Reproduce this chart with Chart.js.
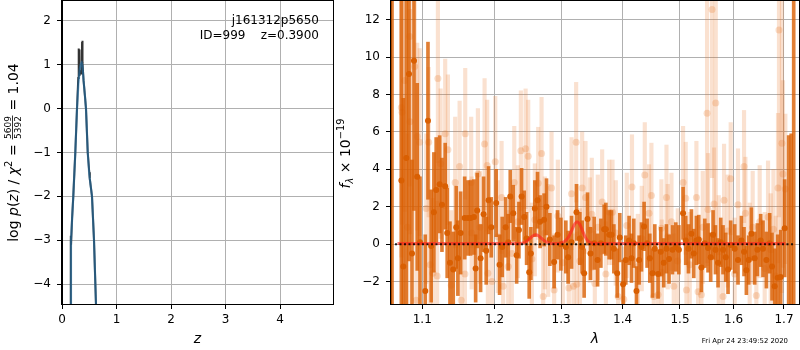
<!DOCTYPE html>
<html><head><meta charset="utf-8">
<script src="https://cdn.jsdelivr.net/npm/chart.js@4.4.0/dist/chart.umd.min.js"></script>
<style>
html,body{margin:0;padding:0;background:#fff;width:800px;height:350px;overflow:hidden;}
#cl{position:absolute;left:0;top:0;}
#cr{position:absolute;left:335px;top:0;}
</style></head><body>
<canvas id="cl" width="340" height="350" style="width:340px;height:350px"></canvas>
<canvas id="cr" width="465" height="350" style="width:465px;height:350px"></canvas>
<script>
// ---------- Left panel: log p(z) ----------
const zTicks = [0, 1, 2, 3, 4];
const logpTicks = [-4, -3, -2, -1, 0, 1, 2];
const zBlack = [0.147, 0.160, 0.163, 0.166, 0.185, 0.207, 0.244, 0.275, 0.298, 0.305, 0.308, 0.314, 0.320, 0.332, 0.350, 0.362, 0.368, 0.372, 0.376, 0.380, 0.395, 0.420, 0.440, 0.472, 0.500, 0.510, 0.525, 0.550, 0.587, 0.624];
const logpBlack = [-4.5, -3.3, -2.9, -3.1, -2.5, -2.0, -1.0, 0.0, 0.7, 1.37, 0.75, 1.35, 0.75, 0.85, 0.8, 1.0, 1.52, 0.9, 1.55, 1.05, 0.65, 0.3, 0.0, -1.0, -1.45, -1.6, -1.75, -2.0, -3.0, -4.5];
const zBlue = [0.148, 0.165, 0.207, 0.244, 0.275, 0.300, 0.325, 0.345, 0.360, 0.375, 0.395, 0.420, 0.440, 0.472, 0.500, 0.525, 0.550, 0.587, 0.624];
const logpBlue = [-4.5, -3.0, -2.0, -1.0, 0.0, 0.55, 0.9, 1.02, 1.05, 0.98, 0.65, 0.3, 0.0, -1.0, -1.5, -1.75, -2.0, -3.0, -4.5];
const objName = 'j161312p5650';
const objInfo = 'ID=999    z=0.3900';

// ---------- Right panel: spectrum ----------
const lamTicks = [1.1, 1.2, 1.3, 1.4, 1.5, 1.6, 1.7];
const fluxTicks = [-2, 0, 2, 4, 6, 8, 10, 12];
const darkLam = [1.0607,1.0727,1.0752,1.0791,1.0826,1.0865,1.0891,1.0934,1.0970,1.1040,1.1076,1.1119,1.1155,1.1186,1.1233,1.1264,1.1308,1.1335,1.1373,1.1418,1.1459,1.1482,1.1520,1.1576,1.1622,1.1659,1.1706,1.1730,1.1752,1.1800,1.1843,1.1880,1.1914,1.1952,1.2024,1.2073,1.2111,1.2161,1.2199,1.2229,1.2273,1.2323,1.2357,1.2397,1.2436,1.2472,1.2511,1.2536,1.2596,1.2637,1.2676,1.2737,1.2774,1.2826,1.2892,1.2945,1.2997,1.3075,1.3111,1.3165,1.3244,1.3297,1.3334,1.3366,1.3421,1.3469,1.3528,1.3584,1.3638,1.3692,1.3720,1.3775,1.3814,1.3853,1.3908,1.3952,1.4008,1.4053,1.4109,1.4150,1.4189,1.4235,1.4280,1.4321,1.4366,1.4418,1.4465,1.4512,1.4552,1.4610,1.4657,1.4710,1.4758,1.4804,1.4865,1.4924,1.4980,1.5056,1.5104,1.5154,1.5208,1.5251,1.5300,1.5343,1.5392,1.5454,1.5515,1.5565,1.5609,1.5654,1.5703,1.5754,1.5798,1.5849,1.5893,1.5944,1.6021,1.6085,1.6151,1.6202,1.6248,1.6293,1.6346,1.6411,1.6464,1.6530,1.6576,1.6644,1.6710,1.6757,1.6811,1.6872,1.6933,1.7014,1.7096,1.7148,1.7200];
const darkFlux = [15,3.4,-1.2,4.6,9.1,-0.5,9.8,3.6,0.1,-2.5,6.6,-0.1,1.7,2.9,3.2,2.1,3.1,0.6,-1.0,-1.35,0.9,-0.75,0.6,1.4,1.4,1.4,1.45,-1.3,1.8,-0.75,1.6,-0.35,2.35,0.9,2.2,-1.1,-0.15,0.9,0.1,2.55,1.65,-0.6,0.75,2.55,1.45,0.3,-1.5,-0.5,1.9,2.35,1.2,1.3,2.0,0.25,-0.95,0.5,0.0,-0.15,-0.7,0.1,1.7,0.3,-0.15,-1.55,1.35,-0.5,0.05,-0.85,0.05,0.8,0.8,0.5,0.5,-0.25,-1.55,0.35,-2.15,-0.85,0.2,-0.75,0.05,-2.5,-0.85,-0.15,0.95,0.05,-0.75,-1.55,-0.25,-1.6,-0.4,-1.0,-0.25,-0.8,-0.3,-0.15,-0.3,1.65,0.2,-0.25,0.55,-0.5,0.2,0.25,-1.25,0.05,-0.2,-0.7,0.5,-0.3,-1.0,0.1,-0.3,-0.7,-1.35,-0.05,-0.25,-0.85,0.2,-0.4,-1.4,-0.85,0.55,-0.75,-0.3,0.2,-0.25,-0.85,0.05,-1.2,-2.25,-1.8,-1.75,0.85,-4,-4,15];
const darkErr = [20,16,9,9.5,10,5,8,5,3.5,3,4.2,3,3.2,2.8,2.6,2.5,2.3,2.4,2.2,2.0,2.2,2.0,2.2,2.2,2.0,2.0,2.0,1.8,2.0,1.8,2.0,1.8,1.8,1.6,1.8,1.6,1.6,1.6,1.5,1.4,1.5,1.5,1.5,1.5,1.4,1.4,1.4,1.4,1.5,1.5,1.4,1.4,1.5,1.4,1.4,1.3,1.4,1.4,1.4,1.4,1.5,1.4,1.4,1.3,1.4,1.4,1.4,1.4,1.3,1.3,1.4,1.3,1.3,1.3,1.3,1.3,1.3,1.3,1.3,1.3,1.3,1.3,1.3,1.3,1.3,1.3,1.3,1.3,1.3,1.3,1.3,1.3,1.3,1.3,1.3,1.3,1.3,1.4,1.3,1.3,1.3,1.3,1.3,1.3,1.3,1.3,1.3,1.3,1.3,1.3,1.3,1.3,1.3,1.3,1.3,1.3,1.3,1.3,1.3,1.3,1.3,1.3,1.4,1.4,1.4,1.4,1.5,1.5,1.6,1.8,2.0,2.3,2.5,2.6,9.8,9.9,20];
const lightLam = [1.0727,1.0736,1.0770,1.0804,1.0835,1.0839,1.0900,1.0921,1.0934,1.0966,1.1053,1.1085,1.1106,1.1142,1.1199,1.1209,1.1246,1.1308,1.1345,1.1391,1.1445,1.1506,1.1528,1.1580,1.1584,1.1667,1.1674,1.1762,1.1790,1.1857,1.1894,1.1904,1.1964,1.2010,1.2048,1.2102,1.2125,1.2199,1.2252,1.2288,1.2342,1.2386,1.2457,1.2496,1.2551,1.2596,1.2647,1.2698,1.2723,1.2749,1.2800,1.2852,1.2892,1.2950,1.3028,1.3122,1.3165,1.3196,1.3238,1.3249,1.3297,1.3334,1.3388,1.3458,1.3490,1.3539,1.3588,1.3659,1.3720,1.3775,1.3830,1.3885,1.3924,1.4019,1.4070,1.4158,1.4258,1.4326,1.4378,1.4452,1.4493,1.4534,1.4610,1.4669,1.4675,1.4758,1.4781,1.4847,1.4888,1.4960,1.5056,1.5104,1.5117,1.5177,1.5300,1.5330,1.5392,1.5417,1.5497,1.5515,1.5590,1.5628,1.5660,1.5716,1.5798,1.5817,1.5887,1.5944,1.6021,1.6085,1.6202,1.6229,1.6313,1.6372,1.6444,1.6510,1.6610,1.6677,1.6730,1.6785,1.6831,1.6878,1.6898,1.6959,1.6979,1.7028];
const lightFlux = [7.3,7.05,8.75,0.9,11.1,6.55,9.5,-3.0,5.75,5.45,1.9,5.45,-1.1,-1.55,-1.7,8.85,4.3,5.9,5.05,-2.2,3.3,4.15,-3.0,-1.6,5.9,3.3,0.6,3.75,0.9,5.35,4.2,-1.55,-2.0,4.4,0.4,2.5,-2.25,-1.2,-0.5,3.3,1.2,5.0,5.1,4.7,-0.8,1.3,3.25,4.85,-2.8,0.6,0.2,3.0,-2.45,1.5,-1.0,-2.35,2.7,-2.25,5.45,-2.15,-0.9,3.0,2.5,0.75,1.6,-2.1,0.9,2.25,-1.6,1.7,1.7,0.6,-2.8,-2.95,1.0,3.05,-1.2,0.3,3.7,1.65,2.6,-2.8,-2.7,0.85,-1.5,2.5,0.4,1.2,-2.25,-0.9,3.3,2.45,-2.45,-1.1,2.5,-2.55,-2.7,0.9,7.0,1.85,12.55,2.15,7.55,-0.4,-2.8,2.35,0.7,3.5,-1.6,2.1,4.15,1.65,-0.8,0.9,-2.75,1.2,-1.3,1.45,-0.3,0.8,-1.7,3.0,11.45,5.4,3.75,2.95];
const lightErr = [8,6,7,5,8,6,6,5,5,5,4,4,4,4,4,4.5,4,4,4,4,3.5,3.5,3.5,3,3.5,3.5,3,3.5,3,3.5,3.5,3,3,3.5,3,3,3,3,3,3,3,3.2,3.2,3,3,3,3,3,3,3,3,3,3,3,3,2.8,3,2.8,3.2,2.8,2.8,3,3,2.8,3,2.8,2.8,2.8,2.8,2.8,2.8,2.8,2.8,2.8,2.8,2.8,2.8,2.8,2.8,2.6,2.8,2.8,2.8,2.6,2.8,2.8,2.8,2.6,2.8,2.8,3,3,3,2.8,3,3,3,3,8,3,9,3,8,3,3,3,3,3,3,3,3,3,3,3,3,3,3,3,3,3.2,3.2,4,10,8,5,4];
const modelLam = [1.0677,1.200,1.235,1.245,1.252,1.257,1.261,1.265,1.270,1.277,1.285,1.293,1.300,1.306,1.312,1.317,1.321,1.325,1.329,1.333,1.338,1.344,1.352,1.400,1.703];
const modelFlux = [0.03,0.03,0.04,0.1,0.3,0.45,0.5,0.45,0.3,0.12,0.04,0.03,0.07,0.16,0.4,0.75,1.05,1.2,1.1,0.8,0.4,0.12,0.04,0.03,0.03];
const zeroLam = [1.0645, 1.722];
const zeroFlux = [0, 0];
const stamp = 'Fri Apr 24 23:49:52 2020';

const FONT = '"DejaVu Sans", "Liberation Sans", sans-serif';
const minus = v => String(v).replace('-', '\u2212');

function richDraw(ctx, pieces, cx, cy) {
  ctx.save();
  ctx.translate(cx, cy);
  ctx.rotate(-Math.PI / 2);
  let W = 0;
  for (const p of pieces) {
    if (p.frac) {
      ctx.font = p.size + 'px ' + FONT;
      p.w = Math.max(ctx.measureText(p.num).width, ctx.measureText(p.den).width) + 2;
    } else {
      ctx.font = (p.italic ? 'italic ' : '') + p.size + 'px ' + FONT;
      p.w = ctx.measureText(p.t).width;
    }
    W += p.w;
  }
  let x = -W / 2;
  ctx.fillStyle = '#000';
  ctx.textBaseline = 'alphabetic';
  for (const p of pieces) {
    if (p.frac) {
      ctx.font = p.size + 'px ' + FONT;
      ctx.textAlign = 'center';
      const mid = x + p.w / 2;
      ctx.fillText(p.num, mid, -6.5);
      ctx.fillText(p.den, mid, 3.5);
      ctx.fillRect(x + 0.5, -5.3, p.w - 1, 0.8);
      ctx.textAlign = 'left';
    } else {
      ctx.font = (p.italic ? 'italic ' : '') + p.size + 'px ' + FONT;
      ctx.textAlign = 'left';
      ctx.fillText(p.t, x, p.dy || 0);
    }
    x += p.w;
  }
  ctx.restore();
}

function frame(chart) {
  const a = chart.chartArea, c = chart.ctx;
  c.save();
  c.strokeStyle = '#000';
  c.lineWidth = 1;
  c.strokeRect(Math.round(a.left) - 0.5, Math.round(a.top) - 0.5, Math.round(a.right - a.left) + 1, Math.round(a.bottom - a.top) + 1);
  c.restore();
}

const gridOpts = { color: '#b0b0b0', lineWidth: 1, tickColor: '#000', tickLength: 5, drawTicks: true };
const tickFont = { family: FONT, size: 12 };

// ---------- Left chart ----------
const leftPlugin = {
  id: 'leftDecor',
  afterDraw(chart) {
    frame(chart);
    const c = chart.ctx, a = chart.chartArea;
    c.save();
    c.fillStyle = '#000';
    c.font = '12px ' + FONT;
    c.textAlign = 'right';
    c.textBaseline = 'alphabetic';
    c.fillText(objName, a.right - 14, a.top + 22.5);
    c.fillText(objInfo, a.right - 14, a.top + 37.5);
    c.restore();
    richDraw(c, [
      { t: 'log ', size: 14 },
      { t: 'p', size: 14, italic: true },
      { t: '(', size: 14 },
      { t: 'z', size: 14, italic: true },
      { t: ') / ', size: 14 },
      { t: '\u03c7', size: 14, italic: true },
      { t: '2', size: 10, dy: -6 },
      { t: ' = ', size: 14 },
      { frac: true, num: '5609', den: '5392', size: 9 },
      { t: ' = 1.04', size: 14 }
    ], 17.5, (a.top + a.bottom) / 2);
  }
};

new Chart(document.getElementById('cl'), {
  type: 'scatter',
  data: {
    datasets: [
      { type: 'line', data: zBlue.map((z, i) => ({ x: z, y: logpBlue[i] })), borderColor: 'rgba(31,119,180,0.55)', borderWidth: 2.2, pointRadius: 0, order: 1 },
      { type: 'line', data: zBlack.map((z, i) => ({ x: z, y: logpBlack[i] })), borderColor: '#333', borderWidth: 2, pointRadius: 0, order: 2 }
    ]
  },
  options: {
    animation: false, responsive: false, maintainAspectRatio: false,
    layout: { autoPadding: false, padding: { left: 0, right: 7, top: 1, bottom: 0 } },
    plugins: { legend: { display: false }, tooltip: { enabled: false } },
    scales: {
      x: {
        type: 'linear', min: 0, max: 4.97,
        afterBuildTicks: s => { s.ticks = zTicks.map(v => ({ value: v })); },
        afterFit: s => { s.height = 46; s.paddingLeft = 0; s.paddingRight = 0; },
        ticks: { font: tickFont, color: '#000', padding: 4, maxRotation: 0, callback: v => minus(v) },
        grid: gridOpts,
        border: { display: true, color: '#000', width: 1 },
        title: { display: true, text: 'z', color: '#000', font: { family: FONT, size: 14, style: 'italic' }, padding: { top: 0, bottom: 2 } }
      },
      y: {
        type: 'linear', min: -4.455, max: 2.456,
        afterBuildTicks: s => { s.ticks = logpTicks.map(v => ({ value: v })); },
        afterFit: s => { s.width = 62; s.paddingTop = 0; s.paddingBottom = 0; },
        ticks: { font: tickFont, color: '#000', padding: 6, callback: v => minus(v) },
        grid: gridOpts,
        border: { display: true, color: '#000', width: 1 }
      }
    }
  },
  plugins: [leftPlugin]
});

// ---------- Right chart ----------
const rightPlugin = {
  id: 'rightDecor',
  afterDraw(chart) {
    frame(chart);
    const c = chart.ctx, a = chart.chartArea;
    richDraw(c, [
      { t: 'f', size: 14, italic: true },
      { t: '\u03bb', size: 9.8, italic: true, dy: 3 },
      { t: ' \u00d7 10', size: 14 },
      { t: '\u221219', size: 9.8, dy: -6 }
    ], 14.5, (a.top + a.bottom) / 2 + 1);
    c.save();
    c.fillStyle = '#000';
    c.font = '6.9px ' + FONT;
    c.textAlign = 'right';
    c.textBaseline = 'alphabetic';
    c.fillText(stamp, a.right - 11, 343);
    c.restore();
  }
};

const darkColor = '#d95f02';
new Chart(document.getElementById('cr'), {
  type: 'scatter',
  data: {
    datasets: [
      { type: 'line', data: zeroLam.map((l, i) => ({ x: l, y: zeroFlux[i] })), borderColor: 'rgba(0,0,0,0.85)', borderWidth: 2, borderDash: [2, 2.5], pointRadius: 0, order: 0 },
      { type: 'line', data: modelLam.map((l, i) => ({ x: l, y: modelFlux[i] })), borderColor: 'rgba(255,30,30,0.6)', borderWidth: 3, pointRadius: 0, cubicInterpolationMode: 'monotone', order: 1 },
      { type: 'scatter', data: darkLam.map((l, i) => ({ x: l, y: darkFlux[i] })), pointRadius: 3, pointBackgroundColor: darkColor, pointBorderWidth: 0, order: 2 },
      { type: 'bar', data: darkLam.map((l, i) => ({ x: l, y: [darkFlux[i] - darkErr[i], darkFlux[i] + darkErr[i]] })), backgroundColor: 'rgba(217,95,2,0.8)', borderWidth: 0, barThickness: 3, stack: 'err', order: 3 },
      { type: 'scatter', data: lightLam.map((l, i) => ({ x: l, y: lightFlux[i] })), pointRadius: 3.5, pointBackgroundColor: 'rgba(230,120,40,0.25)', pointBorderWidth: 0, order: 4 },
      { type: 'bar', data: lightLam.map((l, i) => ({ x: l, y: [lightFlux[i] - lightErr[i], lightFlux[i] + lightErr[i]] })), backgroundColor: 'rgba(230,120,40,0.22)', borderWidth: 0, barThickness: 3.5, stack: 'err', order: 5 }
    ]
  },
  options: {
    animation: false, responsive: false, maintainAspectRatio: false,
    layout: { autoPadding: false, padding: { left: 0, right: 1, top: 1, bottom: 0 } },
    plugins: { legend: { display: false }, tooltip: { enabled: false } },
    scales: {
      x: {
        type: 'logarithmic', min: 1.0594, max: 1.731, offset: false,
        afterBuildTicks: s => { s.ticks = lamTicks.map(v => ({ value: v })); },
        afterFit: s => { s.height = 46; s.paddingLeft = 0; s.paddingRight = 0; },
        ticks: { font: tickFont, color: '#000', padding: 4, maxRotation: 0, autoSkip: false, callback: v => Number(v).toFixed(1) },
        grid: Object.assign({}, gridOpts, { offset: false }),
        border: { display: true, color: '#000', width: 1 },
        title: { display: true, text: '\u03bb', color: '#000', font: { family: FONT, size: 14, style: 'italic' }, padding: { top: 0, bottom: 2 } }
      },
      y: {
        type: 'linear', min: -3.2, max: 13, stacked: false,
        afterBuildTicks: s => { s.ticks = fluxTicks.map(v => ({ value: v })); },
        afterFit: s => { s.width = 56; s.paddingTop = 0; s.paddingBottom = 0; },
        ticks: { font: tickFont, color: '#000', padding: 6, callback: v => minus(v) },
        grid: gridOpts,
        border: { display: true, color: '#000', width: 1 }
      }
    }
  },
  plugins: [rightPlugin]
});
</script></body></html>
